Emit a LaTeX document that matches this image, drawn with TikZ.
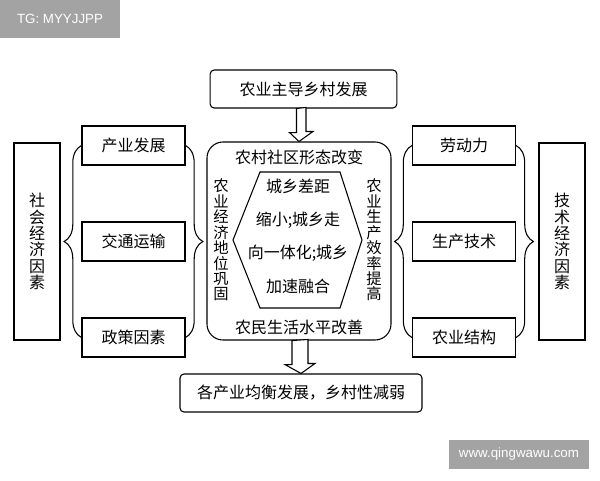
\documentclass[tikz,border=0pt]{standalone}
\usepackage{fontspec}
\setmainfont{Noto Sans CJK SC}
\setsansfont{Liberation Sans}
\usetikzlibrary{decorations.pathreplacing}
\begin{document}
\begin{tikzpicture}[x=0.75pt, y=-0.75pt,
    every node/.style={inner sep=0pt, font=\fontsize{12}{14}\selectfont},
    box/.style={draw, thick, minimum width=77.25pt, minimum height=29.25pt},
    tallbox/.style={draw, thick, minimum width=34.5pt, minimum height=147.75pt, align=center, font=\fontsize{12}{12.2}\selectfont},
    wide/.style={draw, thick, rounded corners=3pt, minimum height=28.5pt},
    vtext/.style={align=center, font=\fontsize{11.5}{11.6}\selectfont},
    brc/.style={thick, decorate, decoration={brace, amplitude=13pt}},
    blockarrow/.style={draw, thick, fill=white},
    stamp/.style={fill=black!36, text=white, font=\sffamily\fontsize{10}{12}\selectfont}
]
\useasboundingbox (0,0) rectangle (600,480);

% watermarks
\node[stamp, minimum width=90pt, minimum height=28.5pt] (tg) at (60,19) {TG: MYYJJPP};
\node[stamp, minimum width=105pt, minimum height=21.75pt] (www) at (519,454.5) {www.qingwawu.com};

% main column
\node[wide, minimum width=140pt] (top) at (303.5,89) {农业主导乡村发展};
\node[draw, thick, rounded corners=12pt, minimum width=138pt, minimum height=148.5pt] (mid) at (299,241) {};
\node[wide, minimum width=181.5pt] (bot) at (301,393) {各产业均衡发展，乡村性减弱};

\draw[thick] (233,240) -- (260,172) -- (340,172) -- (362,240) -- (340,308) -- (260,308) -- cycle;
\node[align=center, font=\fontsize{12}{25}\selectfont] (hex) at (298,236)
  {城乡差距\\缩小;城乡走\\向一体化;城乡\\加速融合};
\node (midtop) at (299,157) {农村社区形态改变};
\node (midbot) at (299,327) {农民生活水平改善};
\node[vtext] (vl) at (221,240) {农\\业\\经\\济\\地\\位\\巩\\固};
\node[vtext] (vr) at (374,240) {农\\业\\生\\产\\效\\率\\提\\高};

% block arrows
\draw[blockarrow] (top.south) ++(-7,0) -- ++(0,24) -- ++(-7,0) -- (mid.north) -- ++(14,-10) -- ++(-7,0) -- ++(0,-24) -- cycle;
\draw[blockarrow] (mid.south) ++(-7,0) -- ++(0,24) -- ++(-7,0) -- (bot.north) -- ++(14,-10) -- ++(-7,0) -- ++(0,-24) -- cycle;

% left side
\node[tallbox] (soc) at (37,241.5) {社\\会\\经\\济\\因\\素};
\node[box] (l1) at (133.5,145.5) {产业发展};
\node[box] (l2) at (133.5,241.5) {交通运输};
\node[box] (l3) at (133.5,337.5) {政策因素};
\draw[brc] (l3.west) -- (l1.west);
\draw[brc] (l1.east) -- (l3.east);

% right side
\node[tallbox] (tec) at (562,241.5) {技\\术\\经\\济\\因\\素};
\node[box] (r1) at (464,145.5) {劳动力};
\node[box] (r2) at (464,241.5) {生产技术};
\node[box] (r3) at (464,337.5) {农业结构};
\draw[brc] (r3.west) -- (r1.west);
\draw[brc] (r1.east) -- (r3.east);

\end{tikzpicture}
\end{document}
